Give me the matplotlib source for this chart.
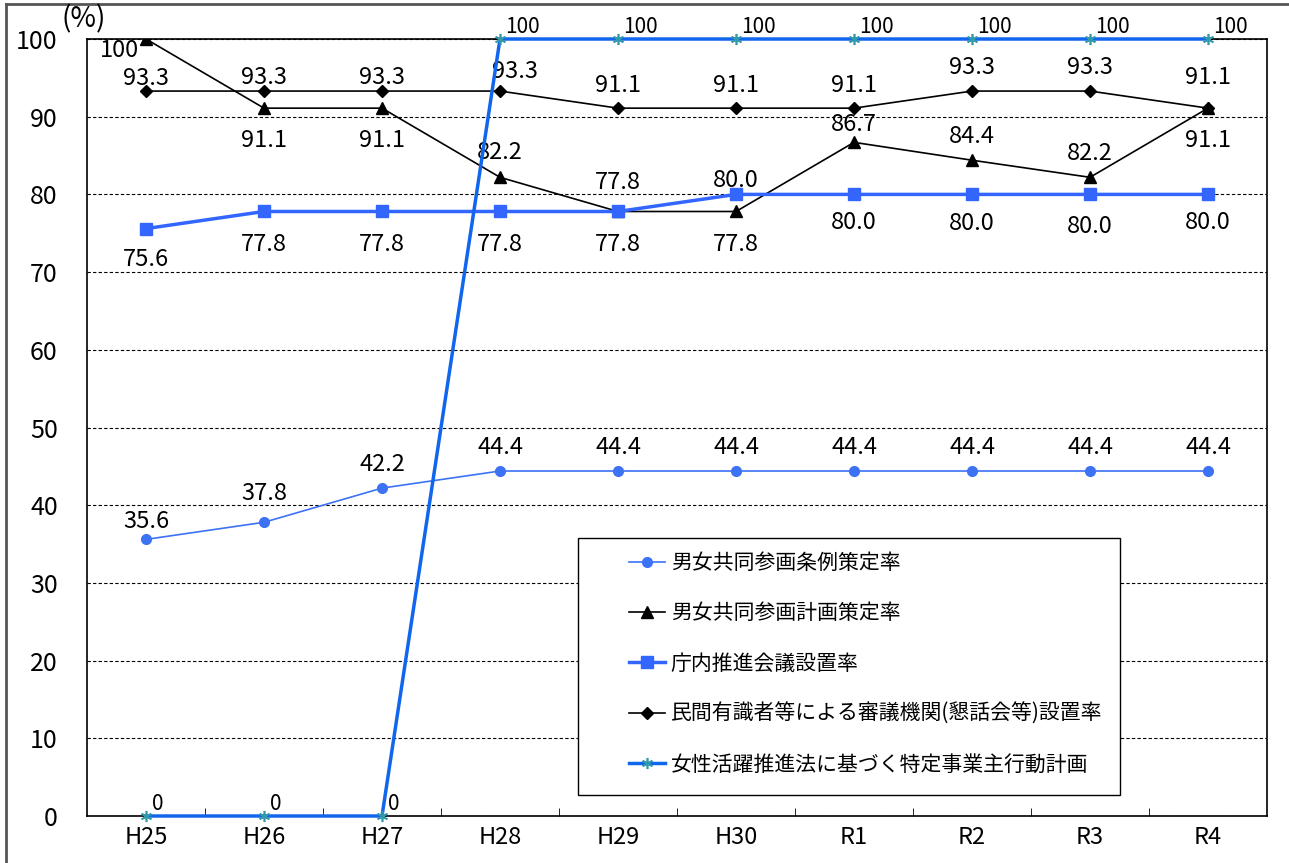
import numpy as np
import matplotlib
matplotlib.use('Agg')
import matplotlib.pyplot as plt
from matplotlib.lines import Line2D
from matplotlib.patches import Rectangle

plt.rcParams['font.family'] = ['Noto Sans CJK JP', 'DejaVu Sans']

# データ
años = ['H25', 'H26', 'H27', 'H28', 'H29', 'H30', 'R1', 'R2', 'R3', 'R4']
jorei = [35.6, 37.8, 42.2, 44.4, 44.4, 44.4, 44.4, 44.4, 44.4, 44.4]
keikaku = [100, 91.1, 91.1, 82.2, 77.8, 77.8, 86.7, 84.4, 82.2, 91.1]
chonai = [75.6, 77.8, 77.8, 77.8, 77.8, 80.0, 80.0, 80.0, 80.0, 80.0]
minkan = [93.3, 93.3, 93.3, 93.3, 91.1, 91.1, 91.1, 93.3, 93.3, 91.1]
josei = [0, 0, 0, 100, 100, 100, 100, 100, 100, 100]

nombres = ['男女共同参画条例策定率', '男女共同参画計画策定率', '庁内推進会議設置率',
           '民間有識者等による審議機関(懇話会等)設置率', '女性活躍推進法に基づく特定事業主行動計画']

# ラベルの位置 (ポイント)
dy_jorei = [13, 21, 17, 17, 17, 17, 17, 17, 17, 17]
dy_keikaku = [None, -23, -23, 18, 21, -24, 13, 17, 17, -23]
dy_chonai = [-22, -24, -24, -24, -24, 10, -20, -21, -23, -20]
dy_minkan = [9, 10, 10, 14, 16, 16, 16, 17, 17, 22]
dx_minkan = [0, 0, 0, 11, 0, 0, 0, 0, 0, 0]

azul = '#3366ff'
fs = 17

fig = plt.figure(figsize=(12.89, 8.63), dpi=100)
ax = fig.add_axes([87/1289, 47/863, 1180/1289, 777/863])
x = np.arange(len(años))

ax.plot(x, jorei, color='#3d72f5', lw=1.2, marker='o', ms=7, label=nombres[0], zorder=4)
ax.plot(x, keikaku, color='black', lw=1.2, marker='^', ms=9, label=nombres[1], zorder=4)
ax.plot(x, chonai, color=azul, lw=2.5, marker='s', ms=8, label=nombres[2], zorder=4)
ax.plot(x, minkan, color='black', lw=1.2, marker='D', ms=6, label=nombres[3], zorder=4)
ax.plot(x, josei, color='#1166ee', lw=2.5, marker=(6, 2, 0), ms=8, mec='#3399aa', mew=1.2,
        label=nombres[4], zorder=5, clip_on=False)

# データラベル
for i in range(len(x)):
    ax.annotate('{:.1f}'.format(jorei[i]), (x[i], jorei[i]), xytext=(0, dy_jorei[i]),
                textcoords='offset points', ha='center', va='center', fontsize=fs)
    if dy_keikaku[i] is None:
        ax.annotate('100', (x[i], keikaku[i]), xytext=(-19, -8), textcoords='offset points',
                    ha='center', va='center', fontsize=fs)
    else:
        ax.annotate('{:.1f}'.format(keikaku[i]), (x[i], keikaku[i]), xytext=(0, dy_keikaku[i]),
                    textcoords='offset points', ha='center', va='center', fontsize=fs)
    ax.annotate('{:.1f}'.format(chonai[i]), (x[i], chonai[i]), xytext=(0, dy_chonai[i]),
                textcoords='offset points', ha='center', va='center', fontsize=fs)
    ax.annotate('{:.1f}'.format(minkan[i]), (x[i], minkan[i]), xytext=(dx_minkan[i], dy_minkan[i]),
                textcoords='offset points', ha='center', va='center', fontsize=fs)
    ax.annotate('{}'.format(josei[i]), (x[i], josei[i]), xytext=(4, 9), textcoords='offset points',
                ha='left', va='center', fontsize=15)

ax.set_xlim(-0.5, len(x) - 0.5)
ax.set_ylim(0, 100)
ax.set_yticks(np.arange(0, 101, 10))
ax.set_xticks(x)
ax.set_xticklabels(años)
ax.set_xticks(np.arange(0.5, len(x) - 0.5, 1), minor=True)
ax.tick_params(axis='y', length=0, pad=21, labelsize=18)
ax.tick_params(axis='x', which='major', length=0, pad=7, labelsize=fs)
ax.tick_params(axis='x', which='minor', length=6, direction='in', color='black')
ax.yaxis.grid(True, color='black', linestyle=(0, (3, 2)), lw=0.8)
ax.set_axisbelow(True)
for s in ax.spines.values():
    s.set_color('black')
    s.set_linewidth(1.2)

fig.text(61/1289, 1 - 19/863, '(%)', fontsize=20, va='center', ha='left')

# 凡例
caja = Rectangle((578/1289, 68/863), 542/1289, 257/863, transform=fig.transFigure,
                 facecolor='white', edgecolor='black', lw=1.0, zorder=6, clip_on=False)
ax.add_patch(caja)
leg = ax.legend(loc='upper left', bbox_to_anchor=(629/1289, 1 - 552/863), bbox_transform=fig.transFigure,
                fontsize=15, labelspacing=1.36, handlelength=1.75, handletextpad=0.25, borderpad=0,
                borderaxespad=0, frameon=False)
leg.set_zorder(7)

# 外枠
fig.add_artist(Line2D([6/1289, 6/1289], [0, 1 - 4/863], color='#555555', lw=2))
fig.add_artist(Line2D([6/1289, 1], [1 - 4/863, 1 - 4/863], color='#555555', lw=2))

fig.savefig('out.png', dpi=100)
